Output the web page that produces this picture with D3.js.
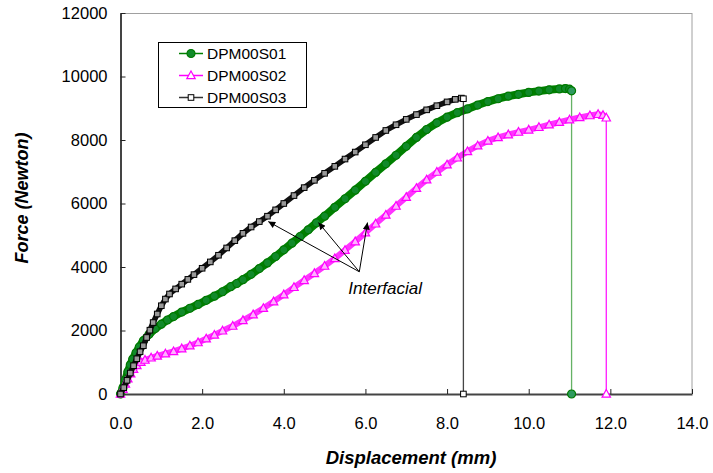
<!DOCTYPE html>
<html>
<head>
<meta charset="utf-8">
<script src="https://cdn.jsdelivr.net/npm/d3@7"></script>
<style>
  body { margin: 0; background: #fff; }
  text { font-family: 'Liberation Sans', Arial, sans-serif; }
</style>
</head>
<body>
<div id="chart"></div>
<script>
// displacement (mm), force (N)
let s01 = [[0,0],[0.06,200],[0.12,450],[0.18,700],[0.24,920],[0.3,1100],[0.38,1300],[0.46,1480],[0.56,1680],[0.7,1880],[0.85,2060],[1.0,2200],[1.15,2330],[1.3,2440],[1.5,2580],[1.7,2700],[1.9,2820],[2.1,2950],[2.3,3080],[2.5,3220],[2.7,3380],[2.85,3480],[3.0,3600],[3.2,3770],[3.4,3950],[3.6,4130],[3.8,4330],[4.0,4540],[4.2,4750],[4.4,4960],[4.6,5170],[4.8,5390],[5.0,5600],[5.25,5880],[5.5,6150],[5.75,6420],[6.0,6700],[6.25,6980],[6.5,7250],[6.75,7520],[7.0,7800],[7.25,8080],[7.5,8330],[7.75,8540],[8.0,8720],[8.25,8860],[8.5,8980],[8.75,9100],[9.0,9210],[9.25,9300],[9.5,9380],[9.75,9440],[10.0,9500],[10.25,9540],[10.5,9580],[10.75,9610],[10.9,9620],[11.0,9600],[11.05,9550]]

let s02 = [[0,0],[0.06,150],[0.12,320],[0.18,480],[0.25,640],[0.32,780],[0.4,900],[0.5,1000],[0.6,1070],[0.75,1140],[0.9,1200],[1.1,1270],[1.3,1340],[1.5,1430],[1.7,1520],[1.9,1620],[2.1,1740],[2.3,1860],[2.5,1990],[2.75,2140],[3.0,2320],[3.25,2500],[3.5,2700],[3.75,2910],[4.0,3130],[4.25,3360],[4.5,3580],[4.75,3800],[5.0,4030],[5.25,4270],[5.5,4530],[5.75,4800],[6.0,5080],[6.25,5360],[6.5,5640],[6.75,5920],[7.0,6200],[7.25,6480],[7.5,6750],[7.75,6990],[8.0,7220],[8.25,7440],[8.5,7640],[8.75,7820],[9.0,7970],[9.25,8080],[9.5,8170],[9.75,8250],[10.0,8320],[10.25,8400],[10.5,8480],[10.75,8560],[11.0,8640],[11.25,8710],[11.5,8770],[11.7,8810],[11.82,8780],[11.9,8700]]

let s03 = [[0,0],[0.08,200],[0.16,430],[0.24,660],[0.32,890],[0.4,1110],[0.48,1330],[0.56,1520],[0.64,1780],[0.72,2010],[0.8,2250],[0.9,2520],[1.0,2780],[1.1,2990],[1.2,3150],[1.35,3310],[1.5,3460],[1.65,3610],[1.8,3760],[2.0,3960],[2.2,4160],[2.4,4370],[2.6,4600],[2.8,4830],[3.0,5060],[3.2,5260],[3.4,5430],[3.6,5600],[3.8,5800],[4.0,6000],[4.25,6250],[4.5,6500],[4.75,6730],[5.0,6950],[5.25,7170],[5.5,7400],[5.75,7620],[6.0,7850],[6.25,8080],[6.5,8300],[6.75,8480],[7.0,8650],[7.25,8800],[7.5,8950],[7.75,9080],[8.0,9200],[8.2,9280],[8.35,9320],[8.4,9300]]

let seriesNames = ['DPM00S01', 'DPM00S02', 'DPM00S03']
let xTicks = [0, 2, 4, 6, 8, 10, 12, 14]
let yTicks = [0, 2000, 4000, 6000, 8000, 10000, 12000]
let noteLabel = 'Interfacial'
// points on each curve the arrows go to
let notePoints = [[3.62, 5430], [4.85, 5400], [6.05, 5400]]
let noteFrom = [5.85, 3850]

let margin = { top: 13, left: 120.5, right: 21, bottom: 79 }
let width = 713 - margin.left - margin.right
let height = 473 - margin.top - margin.bottom

let svg = d3
  .select('#chart')
  .append('svg')
  .attr('width', 713)
  .attr('height', 473)

let defs = svg.append('defs')
defs
  .append('marker')
  .attr('id', 'arrow')
  .attr('viewBox', '0 0 10 10')
  .attr('refX', 10)
  .attr('refY', 5)
  .attr('markerWidth', 8)
  .attr('markerHeight', 7)
  .attr('markerUnits', 'userSpaceOnUse')
  .attr('orient', 'auto')
  .append('path')
  .attr('d', 'M0,0L10,5L0,10Z')
  .attr('fill', '#000')

let g = svg
  .append('g')
  .attr('transform', 'translate(' + margin.left + ',' + margin.top + ')')

let xPositionScale = d3.scaleLinear().domain([0, 14]).range([0, width])
let yPositionScale = d3.scaleLinear().domain([0, 12000]).range([height, 0])

// top and right frame
g.append('line')
  .attr('x1', 0).attr('x2', width).attr('y1', 0.5).attr('y2', 0.5)
  .attr('stroke', '#a0a0a0')
g.append('line')
  .attr('x1', width).attr('x2', width).attr('y1', 0).attr('y2', height)
  .attr('stroke', '#a0a0a0')

let xAxis = d3
  .axisBottom(xPositionScale)
  .tickValues(xTicks)
  .tickSizeInner(-5)
  .tickSizeOuter(0)
  .tickPadding(23)
  .tickFormat(d3.format('.1f'))

let yAxis = d3
  .axisLeft(yPositionScale)
  .tickValues(yTicks)
  .tickSizeInner(-5)
  .tickSizeOuter(0)
  .tickPadding(13)
  .tickFormat(d3.format('d'))

g.append('g')
  .attr('class', 'axis x-axis')
  .attr('transform', 'translate(0,' + height + ')')
  .call(xAxis)
g.append('g')
  .attr('class', 'axis y-axis')
  .call(yAxis)

svg.selectAll('.axis .domain').attr('stroke', '#444').attr('stroke-width', 2)
svg.selectAll('.axis .tick line').attr('stroke', '#222')
svg.selectAll('.axis text')
  .attr('font-size', 16.5)
  .attr('fill', '#000')
  .attr('font-family', "'Liberation Sans', Arial, sans-serif")

let line = d3
  .line()
  .x(d => xPositionScale(d[0]))
  .y(d => yPositionScale(d[1]))

let styles = [
  { band: '#008000', bandWidth: 8, drop: '#008000', marker: 'circle', fill: '#118a2a', stroke: '#007a00', endFill: '#2f9a5f' },
  { band: '#ff33ff', bandWidth: 6, drop: '#ff00ff', marker: 'triangle', fill: '#ffb0ff', stroke: '#ff00ff', endFill: '#fff' },
  { band: '#111', bandWidth: 5.5, drop: '#333', marker: 'square', fill: '#999', stroke: '#000', endFill: '#fff' }
]
let allSeries = [s01, s02, s03]

function drawMarker(sel, st, fill) {
  if (st.marker === 'circle') {
    sel.append('circle').attr('r', 4)
      .attr('fill', fill).attr('stroke', st.stroke).attr('stroke-width', 1.2)
  } else if (st.marker === 'triangle') {
    sel.append('path').attr('d', 'M0,-4.5L4.2,3.2L-4.2,3.2Z')
      .attr('fill', fill).attr('stroke', st.stroke).attr('stroke-width', 1.2)
  } else {
    sel.append('rect').attr('x', -2.8).attr('y', -2.8).attr('width', 5.6).attr('height', 5.6)
      .attr('fill', fill).attr('stroke', st.stroke).attr('stroke-width', 1)
  }
}

allSeries.forEach((data, i) => {
  let st = styles[i]
  let last = data[data.length - 1]
  let sg = g.append('g').attr('class', 'series-' + i)

  // vertical drop to zero at failure
  sg.append('line')
    .attr('x1', xPositionScale(last[0]))
    .attr('x2', xPositionScale(last[0]))
    .attr('y1', yPositionScale(last[1]))
    .attr('y2', yPositionScale(0))
    .attr('stroke', st.drop)
    .attr('stroke-width', 1.3)
    .attr('opacity', i === 0 ? 0.6 : 0.9)

  sg.append('path')
    .datum(data)
    .attr('d', line)
    .attr('fill', 'none')
    .attr('stroke', st.band)
    .attr('stroke-width', st.bandWidth)
    .attr('stroke-linejoin', 'round')
    .attr('stroke-linecap', 'round')

  sg.selectAll('.pt')
    .data(data.slice(0, -1))
    .enter()
    .append('g')
    .attr('class', 'pt')
    .attr('transform', d => 'translate(' + xPositionScale(d[0]) + ',' + yPositionScale(d[1]) + ')')
    .each(function () { drawMarker(d3.select(this), st, st.fill) })

  // end markers: last reading and the zero after failure
  sg.selectAll('.end')
    .data([last, [last[0], 0]])
    .enter()
    .append('g')
    .attr('class', 'end')
    .attr('transform', d => 'translate(' + xPositionScale(d[0]) + ',' + yPositionScale(d[1]) + ')')
    .each(function () { drawMarker(d3.select(this), st, st.endFill) })
})

// annotation
notePoints.forEach(p => {
  g.append('line')
    .attr('x1', xPositionScale(noteFrom[0]))
    .attr('y1', yPositionScale(noteFrom[1]))
    .attr('x2', xPositionScale(p[0]))
    .attr('y2', yPositionScale(p[1]))
    .attr('stroke', '#000')
    .attr('stroke-width', 1)
    .attr('marker-end', 'url(#arrow)')
})
g.append('text')
  .attr('x', xPositionScale(noteFrom[0]) - 11)
  .attr('y', yPositionScale(noteFrom[1]) + 22)
  .attr('font-size', 17)
  .attr('font-style', 'italic')
  .text(noteLabel)

// legend
let legend = svg.append('g').attr('transform', 'translate(158,42)')
legend.append('rect')
  .attr('x', 0.5).attr('y', 0.5).attr('width', 148).attr('height', 65)
  .attr('fill', '#fff').attr('stroke', '#000')
seriesNames.forEach((name, i) => {
  let st = styles[i]
  let row = legend.append('g').attr('transform', 'translate(0,' + (11.5 + i * 22) + ')')
  row.append('line')
    .attr('x1', 21).attr('x2', 45).attr('y1', 0).attr('y2', 0)
    .attr('stroke', st.drop).attr('stroke-width', 1.5)
  drawMarker(row.append('g').attr('transform', 'translate(33,0)'), st, i === 0 ? st.fill : st.endFill)
  row.append('text')
    .attr('x', 49).attr('y', 5.5)
    .attr('font-size', 15.5)
    .text(name)
})

// axis titles
svg.append('text')
  .attr('x', 411)
  .attr('y', 464)
  .attr('text-anchor', 'middle')
  .attr('font-size', 18.5)
  .attr('font-weight', 'bold')
  .attr('font-style', 'italic')
  .text('Displacement (mm)')

svg.append('text')
  .attr('transform', 'translate(28,198) rotate(-90)')
  .attr('text-anchor', 'middle')
  .attr('font-size', 18)
  .attr('font-weight', 'bold')
  .attr('font-style', 'italic')
  .text('Force (Newton)')
</script>
</body>
</html>
